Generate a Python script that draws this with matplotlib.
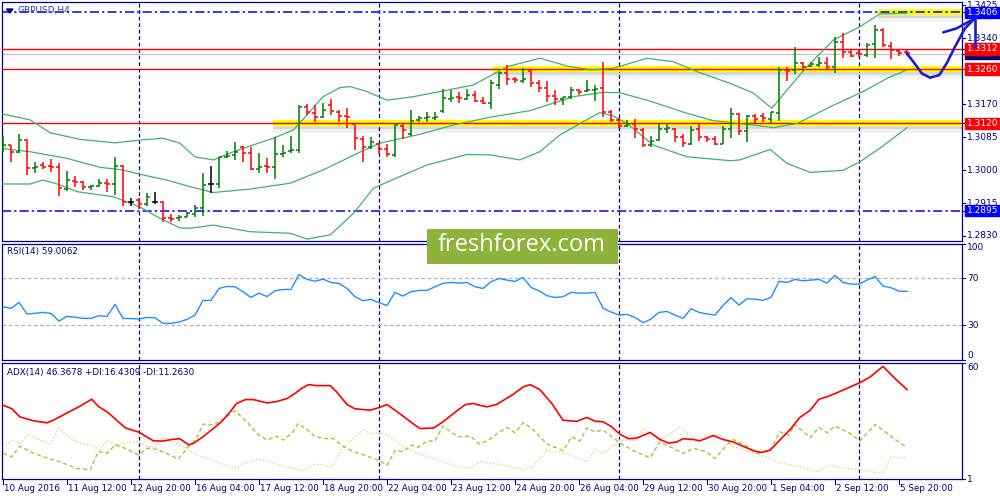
import numpy as np
import matplotlib.pyplot as plt
import matplotlib.transforms as mtransforms
import matplotlib.patheffects as pe
from matplotlib.collections import LineCollection
from matplotlib.patches import Rectangle, Polygon

plt.rcParams['font.family'] = 'DejaVu Sans'
plt.rcParams['font.size'] = 6.3

# ---- GBPUSD H4 bars ----
opens = [1.30532, 1.30635, 1.30464, 1.30764, 1.30043, 1.30120, 1.30103, 1.30086, 1.29502, 1.29725,
         1.29699, 1.29553, 1.29588, 1.29657, 1.29639, 1.30103, 1.29184, 1.29227, 1.29116, 1.29176,
         1.29184, 1.28763, 1.28755, 1.28798, 1.28858, 1.29030, 1.29639, 1.29631, 1.30343, 1.30395,
         1.30584, 1.30450, 1.30026, 1.30103, 1.30086, 1.30404, 1.30498, 1.30515, 1.31632, 1.31477,
         1.31357, 1.31674, 1.31503, 1.31391, 1.31185, 1.30807, 1.30601, 1.30670, 1.30532, 1.30386,
         1.31142, 1.30927, 1.31288, 1.31331, 1.31331, 1.31520, 1.31820, 1.31872, 1.31829, 1.31932,
         1.31786, 1.31717, 1.32190, 1.32490, 1.32344, 1.32293, 1.32559, 1.32250, 1.32104, 1.31906,
         1.31820, 1.31872, 1.32061, 1.32035, 1.32061, 1.32104, 1.31503, 1.31288, 1.31142, 1.31185,
         1.31030, 1.30644, 1.30773, 1.31048, 1.31048, 1.30859, 1.30661, 1.31048, 1.30842, 1.30790,
         1.30670, 1.31056, 1.31434, 1.31005, 1.31391, 1.31391, 1.31305, 1.31460, 1.32576, 1.32576,
         1.32748, 1.32679, 1.32705, 1.32748, 1.32662, 1.33289, 1.33048, 1.33005, 1.32963, 1.33237,
         1.33607, 1.33203, 1.33074, 1.33031]
highs = [1.30876, 1.30653, 1.30927, 1.30790, 1.30215, 1.30215, 1.30283, 1.30172, 1.29974, 1.29845,
         1.29717, 1.29605, 1.29768, 1.29777, 1.30343, 1.30129, 1.29270, 1.29270, 1.29399, 1.29433,
         1.29210, 1.28867, 1.28841, 1.28927, 1.29098, 1.29914, 1.30103, 1.30343, 1.30498, 1.30721,
         1.30618, 1.30601, 1.30429, 1.30301, 1.30842, 1.30644, 1.30876, 1.31674, 1.31692, 1.31674,
         1.31717, 1.31829, 1.31546, 1.31589, 1.31202, 1.30884, 1.30842, 1.30704, 1.30661, 1.31202,
         1.31185, 1.31546, 1.31391, 1.31494, 1.31503, 1.32078, 1.32061, 1.32018, 1.32078, 1.32044,
         1.31889, 1.32318, 1.32516, 1.32705, 1.32387, 1.32619, 1.32593, 1.32318, 1.32301, 1.32061,
         1.31889, 1.32130, 1.32087, 1.32318, 1.32190, 1.32791, 1.31546, 1.31331, 1.31288, 1.31305,
         1.31073, 1.30876, 1.31185, 1.31185, 1.31073, 1.30919, 1.31142, 1.31202, 1.30876, 1.30884,
         1.31142, 1.31589, 1.31460, 1.31417, 1.31434, 1.31460, 1.31503, 1.32662, 1.32662, 1.33177,
         1.32774, 1.32791, 1.32902, 1.32902, 1.33418, 1.33521, 1.33109, 1.33109, 1.33263, 1.33735,
         1.33649, 1.33289, 1.33091, 1.33091]
lows = [1.30472, 1.30215, 1.30429, 1.29871, 1.29914, 1.30026, 1.29957, 1.29339, 1.29468, 1.29553,
        1.29485, 1.29485, 1.29571, 1.29425, 1.29356, 1.29081, 1.29073, 1.28987, 1.29081, 1.29116,
        1.28669, 1.28652, 1.28695, 1.28781, 1.28781, 1.28824, 1.29399, 1.29528, 1.30301, 1.30258,
        1.30198, 1.30000, 1.29931, 1.29914, 1.29760, 1.30343, 1.30429, 1.30447, 1.31417, 1.31245,
        1.31331, 1.31417, 1.31245, 1.31073, 1.30515, 1.30215, 1.30541, 1.30404, 1.30326, 1.30326,
        1.30790, 1.30876, 1.31245, 1.31245, 1.31288, 1.31477, 1.31760, 1.31735, 1.31803, 1.31760,
        1.31700, 1.31580, 1.32087, 1.32190, 1.32250, 1.32250, 1.32147, 1.32001, 1.31743, 1.31674,
        1.31674, 1.31820, 1.31932, 1.32018, 1.31778, 1.31374, 1.31245, 1.31073, 1.31116, 1.30833,
        1.30584, 1.30584, 1.30756, 1.30962, 1.30713, 1.30584, 1.30644, 1.30756, 1.30713, 1.30644,
        1.30661, 1.30816, 1.30902, 1.30730, 1.31202, 1.31245, 1.31219, 1.31271, 1.32293, 1.32473,
        1.32559, 1.32645, 1.32662, 1.32602, 1.32490, 1.32877, 1.32902, 1.32920, 1.32920, 1.32877,
        1.33177, 1.32851, 1.32937, 1.32963]
closes = [1.30635, 1.30464, 1.30764, 1.30043, 1.30086, 1.30077, 1.30086, 1.29528, 1.29742, 1.29682,
          1.29571, 1.29588, 1.29657, 1.29631, 1.30103, 1.29184, 1.29184, 1.29124, 1.29313, 1.29176,
          1.28755, 1.28738, 1.28781, 1.28884, 1.29030, 1.29614, 1.29639, 1.30326, 1.30369, 1.30472,
          1.30450, 1.30026, 1.30086, 1.30086, 1.30404, 1.30429, 1.30515, 1.31632, 1.31503, 1.31357,
          1.31546, 1.31520, 1.31391, 1.31374, 1.30816, 1.30601, 1.30713, 1.30532, 1.30404, 1.31159,
          1.31030, 1.31262, 1.31331, 1.31374, 1.31374, 1.31846, 1.31846, 1.31846, 1.31932, 1.31786,
          1.31717, 1.32233, 1.32490, 1.32336, 1.32318, 1.32336, 1.32233, 1.32121, 1.31906, 1.31820,
          1.31872, 1.32061, 1.32018, 1.32061, 1.32078, 1.31503, 1.31288, 1.31142, 1.31185, 1.31048,
          1.30644, 1.30756, 1.31048, 1.31073, 1.30859, 1.30687, 1.31030, 1.30842, 1.30799, 1.30670,
          1.31048, 1.31434, 1.31005, 1.31400, 1.31322, 1.31331, 1.31486, 1.32576, 1.32559, 1.32748,
          1.32662, 1.32722, 1.32765, 1.32662, 1.33306, 1.33048, 1.32937, 1.32988, 1.33220, 1.33607,
          1.33220, 1.33091, 1.33005, 1.33005]

# Bollinger bands (x = bar index, read at visible vertices)
bb_up_x = [-0.4, 3.4, 5.9, 9.6, 14.0, 17.1, 20.0, 22.1, 24.0, 26.3, 28.8, 30.9, 33.8, 36.3, 38.0, 40.0,
           42.1, 43.4, 45.5, 48.0, 51.3, 54.6, 58.8, 63.0, 67.1, 70.5, 73.4, 76.3, 80.5, 83.8, 86.8,
           90.9, 93.8, 96.1, 98.0, 100.5, 103.8, 107.1, 109.6, 113.0]
bb_up = [1.3146, 1.3129, 1.3096, 1.3079, 1.3070, 1.3077, 1.3082, 1.3069, 1.3034, 1.3026, 1.3047, 1.3062,
         1.3082, 1.3103, 1.3142, 1.3189, 1.3212, 1.3215, 1.3202, 1.3180, 1.3189, 1.3202, 1.3219, 1.3266,
         1.3288, 1.3268, 1.3258, 1.3262, 1.3288, 1.3279, 1.3253, 1.3223, 1.3198, 1.3159, 1.3206, 1.3266,
         1.3335, 1.3369, 1.3402, 1.3404]
bb_mid_x = [-0.4, 3.4, 8.0, 12.1, 15.0, 17.1, 20.5, 23.4, 26.3, 30.9, 35.9, 40.0, 44.3, 47.1, 52.1, 56.3,
            60.9, 65.9, 71.3, 75.0, 77.1, 80.5, 85.5, 88.8, 90.9, 93.8, 96.3, 99.3, 103.4, 107.5, 110.5, 113.0]
bb_mid = [1.3056, 1.3047, 1.3030, 1.3007, 1.3000, 1.2989, 1.2974, 1.2957, 1.2942, 1.2951, 1.2966, 1.3000,
          1.3043, 1.3069, 1.3092, 1.3116, 1.3136, 1.3153, 1.3189, 1.3200, 1.3199, 1.3180, 1.3146, 1.3127,
          1.3122, 1.3116, 1.3109, 1.3120, 1.3163, 1.3202, 1.3236, 1.3258]
bb_low_x = [-0.4, 3.4, 5.0, 6.8, 9.3, 13.8, 17.1, 19.6, 22.1, 23.4, 26.3, 30.9, 35.9, 38.0, 40.9, 43.8,
            46.3, 49.6, 53.0, 58.0, 60.9, 64.6, 67.1, 69.6, 71.8, 74.6, 76.3, 78.0, 81.3, 85.5, 90.9,
            92.1, 95.9, 98.0, 100.9, 105.0, 107.1, 109.6, 113.0]
bb_low = [1.2964, 1.2964, 1.2974, 1.2964, 1.2944, 1.2931, 1.2905, 1.2876, 1.2851, 1.2850, 1.2858, 1.2841,
          1.2837, 1.2822, 1.2833, 1.2888, 1.2953, 1.2983, 1.3013, 1.3040, 1.3039, 1.3026, 1.3047, 1.3090,
          1.3116, 1.3148, 1.3139, 1.3120, 1.3064, 1.3034, 1.3024, 1.3026, 1.3053, 1.3017, 1.2994, 1.2999,
          1.3021, 1.3056, 1.3109]

# RSI(14), one value per bar
rsi = [45.9, 44.5, 49.6, 39.7, 40.3, 41.1, 40.2, 33.7, 37.7, 37.0,
       36.0, 36.0, 38.2, 37.7, 47.9, 36.0, 35.8, 35.4, 36.8, 36.5,
       31.7, 31.7, 32.9, 35.1, 38.8, 51.3, 51.3, 61.5, 63.2, 62.9,
       58.7, 53.8, 57.5, 54.6, 59.5, 60.6, 60.6, 73.4, 69.2, 67.7,
       69.4, 66.6, 65.8, 61.5, 54.4, 51.0, 52.2, 49.3, 47.0, 58.1,
       55.0, 58.7, 59.8, 59.8, 62.9, 65.8, 66.6, 66.0, 66.6, 62.9,
       61.5, 67.2, 70.0, 68.6, 67.5, 70.9, 62.4, 59.5, 55.3, 53.8,
       54.4, 58.1, 57.5, 57.5, 58.1, 44.7, 41.4, 38.8, 39.4, 36.8,
       32.3, 35.4, 41.1, 41.9, 38.8, 36.0, 44.2, 41.1, 39.7, 38.8,
       47.0, 53.6, 47.3, 52.7, 52.4, 51.3, 53.8, 67.5, 66.6, 69.2,
       68.0, 68.6, 69.2, 66.0, 72.6, 66.6, 65.2, 65.2, 68.6, 71.7,
       63.5, 62.1, 59.2, 59.0]

# ADX(14) and directional lines (x = bar index of the read vertex)
adx_x = [0, 1.1, 2.1, 3.8, 5.5, 6.3, 8.0, 9.6, 11.1, 11.9, 13.2, 14.2, 15.3, 17.0, 18.8, 20.0, 21.1, 22.1,
         23.2, 23.8, 25.0, 26.3, 27.3, 28.4, 29.2, 30.3, 31.3, 33.0, 34.2, 35.5, 36.5, 37.3, 38.2, 39.2,
         40.9, 41.7, 43.0, 44.0, 45.9, 47.1, 48.0, 49.0, 50.0, 51.1, 52.1, 53.8, 55.0, 56.3, 57.8, 58.8,
         59.6, 60.5, 61.7, 63.8, 65.0, 65.9, 67.1, 68.6, 70.0, 71.7, 73.0, 74.0, 75.0, 76.1, 77.1, 78.2,
         79.2, 80.9, 82.1, 83.2, 84.2, 85.0, 86.3, 87.1, 88.8, 90.0, 91.3, 92.5, 93.8, 94.8, 95.9, 97.1,
         98.4, 99.6, 100.9, 102.0, 103.0, 104.2, 105.9, 107.1, 108.4, 110.0, 111.5, 113.0]
adx = [38.5, 36.8, 32.6, 30.6, 29.6, 30.9, 34.6, 38.0, 41.6, 38.0, 34.6, 30.9, 27.0, 24.8, 20.4, 20.3, 21.1,
       21.5, 18.4, 19.1, 22.5, 26.7, 30.1, 35.2, 39.4, 41.4, 41.4, 39.7, 40.4, 41.9, 44.5, 47.0, 49.0, 48.5,
       48.5, 45.3, 38.9, 36.7, 36.0, 37.4, 38.9, 36.0, 33.0, 29.6, 26.7, 26.9, 30.1, 34.3, 38.9, 39.4,
       38.5, 37.7, 38.9, 44.1, 47.8, 49.0, 46.5, 39.4, 30.9, 30.3, 32.3, 30.4, 30.1, 27.5, 23.8, 21.5,
       21.8, 24.7, 21.1, 19.3, 19.8, 21.5, 21.1, 20.4, 23.1, 21.1, 19.8, 17.7, 15.4, 14.5, 15.7, 20.8,
       26.2, 32.3, 36.0, 41.6, 42.8, 44.8, 47.8, 50.0, 52.9, 58.3, 52.1, 46.5]
pdi_x = [0, 1.1, 2.1, 3.4, 5.0, 7.1, 9.2, 10.9, 11.9, 13.0, 14.0, 15.0, 17.0, 18.0, 19.2, 20.9, 21.9, 23.0,
         24.2, 25.0, 26.3, 27.3, 29.0, 30.5, 31.7, 33.0, 34.2, 35.0, 36.1, 36.9, 38.0, 39.0, 40.3, 41.3,
         42.5, 43.8, 45.5, 47.1, 48.0, 49.0, 50.0, 51.1, 51.9, 53.0, 54.0, 55.0, 56.1, 57.1, 58.4, 59.6,
         60.7, 61.9, 63.0, 64.0, 65.0, 66.1, 68.0, 70.0, 71.1, 72.1, 73.0, 74.0, 75.0, 77.1, 78.8, 80.9,
         82.1, 83.4, 85.0, 86.3, 87.9, 89.0, 90.5, 91.3, 93.0, 94.4, 95.9, 97.1, 98.2, 99.0, 100.9, 102.0,
         103.0, 104.0, 105.9, 107.1, 109.0, 110.0, 111.5, 113.0]
pdi = [14.0, 12.3, 17.7, 14.9, 12.3, 9.8, 6.4, 5.6, 14.9, 14.0, 18.3, 17.1, 13.2, 16.6, 16.1, 13.2, 11.1,
       16.6, 21.6, 28.9, 28.4, 30.9, 35.7, 30.1, 24.2, 20.8, 22.8, 20.8, 24.2, 29.2, 26.2, 22.5, 21.6, 21.6,
       17.7, 14.9, 12.7, 10.3, 7.9, 15.4, 14.9, 18.3, 17.1, 20.3, 20.3, 27.9, 24.5, 22.5, 22.8, 18.7,
       20.8, 24.5, 27.2, 24.5, 29.7, 26.7, 18.8, 15.4, 22.5, 20.3, 27.0, 25.0, 25.9, 19.4, 15.4, 11.8,
       19.9, 17.4, 14.0, 16.6, 14.9, 11.5, 18.3, 21.1, 17.7, 14.0, 15.7, 25.0, 23.3, 28.7, 22.1, 27.2,
       24.5, 27.9, 24.2, 20.3, 28.7, 25.9, 21.1, 17.1]
mdi_x = [0, 1.3, 2.1, 3.2, 4.6, 5.9, 7.0, 8.2, 9.6, 11.1, 12.1, 13.0, 14.0, 15.0, 17.0, 18.0, 19.0, 20.0,
         21.1, 22.1, 23.0, 24.2, 26.3, 29.0, 30.0, 31.7, 33.0, 35.0, 37.5, 39.0, 41.1, 42.5, 43.8, 45.0,
         46.1, 47.1, 48.2, 50.0, 52.1, 53.8, 55.5, 57.1, 58.4, 59.6, 61.7, 63.8, 65.0, 66.3, 68.0, 70.0,
         72.1, 73.0, 74.0, 75.0, 77.1, 79.2, 80.0, 82.1, 84.6, 86.7, 88.4, 89.6, 91.3, 93.0, 95.0, 97.1,
         99.2, 101.7, 103.2, 105.5, 107.6, 110.0, 111.0, 113.0]
mdi = [17.1, 21.1, 19.1, 23.8, 20.8, 18.8, 26.7, 22.5, 19.1, 18.3, 15.7, 20.4, 18.3, 19.4, 19.9, 17.4, 17.1,
       22.1, 20.3, 18.3, 16.6, 13.2, 10.3, 6.4, 8.4, 11.0, 10.3, 7.6, 5.2, 8.6, 7.3, 17.1, 21.6, 25.9,
       23.8, 24.5, 23.3, 17.7, 13.7, 11.5, 9.0, 6.9, 6.8, 9.8, 8.6, 6.9, 5.6, 7.6, 15.4, 14.4, 11.5, 9.8,
       16.1, 14.0, 20.8, 20.8, 26.7, 20.8, 27.2, 20.8, 23.8, 23.3, 17.4, 15.4, 12.7, 9.3, 7.6, 4.7, 7.9,
       6.4, 5.6, 3.5, 12.3, 11.5]

# levels and annotations
red_levels = [1.3312, 1.3260, 1.3120]
blue_levels = [1.3406, 1.2895]
bid_price = 1.3300
yellow_levels = [1.3406, 1.3260, 1.3120]
yellow_start = [109.4, 61.25, 33.75]
separators = [17, 47, 77, 107]
price_ticks = [1.3425, 1.3340, 1.3170, 1.3085, 1.3000, 1.2915, 1.2830]
date_idx = list(range(0, 113, 8))
date_labels = ['10 Aug 2016', '11 Aug 12:00', '12 Aug 20:00', '16 Aug 04:00', '17 Aug 12:00',
               '18 Aug 20:00', '22 Aug 04:00', '23 Aug 12:00', '24 Aug 20:00', '26 Aug 04:00',
               '29 Aug 12:00', '30 Aug 20:00', '1 Sep 04:00', '2 Sep 12:00', '5 Sep 20:00']
arrow_x = [112.96, 113.79, 114.84, 115.88, 117.04, 117.96, 119.0, 120.25, 121.5]
arrow_y = [1.33006, 1.32790, 1.32491, 1.32378, 1.32447, 1.32749, 1.33176, 1.33650, 1.33908]
barb1_x = [117.54, 119.21, 121.5]
barb1_y = [1.33547, 1.33650, 1.33908]
barb2_x = [121.5, 121.5]
barb2_y = [1.33908, 1.33176]

NAVY = '#000080'
BULL = '#007a00'
BEAR = '#ff0000'
W, H = 1000, 500


def px_box(left, top, right, bottom):
    return [left / W, 1 - bottom / H, (right - left) / W, (bottom - top) / H]


fig = plt.figure(figsize=(10, 5), dpi=100, facecolor='white')
ax = fig.add_axes(px_box(2, 2, 962, 240.5))
ax_rsi = fig.add_axes(px_box(2, 243.5, 962, 360))
ax_adx = fig.add_axes(px_box(2, 363, 962, 479))

for a in (ax, ax_rsi, ax_adx):
    a.set_xlim(-0.125, 119.875)
    a.set_xticks([])
    a.set_yticks([])
    for s in a.spines.values():
        s.set_color(NAVY)
        s.set_linewidth(0.9)
    for sep in separators:
        a.axvline(sep, color=NAVY, lw=0.9, ls=(0, (3, 2.2)), zorder=1)

ax.set_ylim(1.28184, 1.34328)
ax_rsi.set_ylim(0.5, 99.8)
ax_adx.set_ylim(60 - 116.3 * 0.5073, 60)


def right_label(a, y, text, bg=None, va='center', z=6):
    tr = mtransforms.blended_transform_factory(a.transAxes, a.transData)
    a.plot([1, 1.0035], [y, y], transform=tr, color=NAVY, lw=0.8, clip_on=False)
    if bg is None:
        a.text(1.0055, y, text, transform=tr, color=NAVY, va=va, ha='left',
               fontsize=6.5, clip_on=False, zorder=z)
    else:
        a.text(1.0048, y, text, transform=tr, color='white', va=va, ha='left',
               fontsize=6.5, clip_on=False, zorder=z,
               bbox=dict(boxstyle='square,pad=0.13', fc=bg, ec=bg))


# ---- main price panel ----
shadow = [pe.SimpleLineShadow(offset=(0, -2.2), shadow_color='black', alpha=0.11),
          pe.SimpleLineShadow(offset=(0, -4.4), shadow_color='black', alpha=0.05),
          pe.Normal()]
for lvl, x0 in zip(yellow_levels, yellow_start):
    ax.plot([x0, 119.875], [lvl, lvl], color='#ffff00', lw=4.4, solid_capstyle='butt',
            path_effects=shadow, zorder=2)
ax.axhline(bid_price, color='#c8c8c8', lw=1, zorder=2)
for lvl in red_levels:
    ax.axhline(lvl, color='#ff0000', lw=1, zorder=3)
for lvl in blue_levels:
    ax.axhline(lvl, color='#0000ff', lw=1.1, ls=(0, (6, 2, 1.5, 2)), zorder=3)

for bx, by in ((bb_up_x, bb_up), (bb_mid_x, bb_mid), (bb_low_x, bb_low)):
    ax.plot(bx, by, color='#3cb371', lw=0.9, zorder=4)

idx = np.arange(len(closes))
segs, cols = [], []
for i in idx:
    o, h, l, c = opens[i], highs[i], lows[i], closes[i]
    col = BULL if c > o else (BEAR if c < o else 'black')
    segs += [[(i, l), (i, h)], [(i - 0.42, o), (i, o)], [(i, c), (i + 0.42, c)]]
    cols += [col] * 3
ax.add_collection(LineCollection(segs, colors=cols, linewidths=1.1, zorder=5))

for t in price_ticks:
    right_label(ax, t, f'{t:.4f}')
right_label(ax, 1.3406, '1.3406', bg='#0000ff', z=7)
right_label(ax, 1.3300, '1.3300', bg='#000070', z=7)
right_label(ax, 1.3312, '1.3312', bg='#ff0000', z=8)
right_label(ax, 1.3260, '1.3260', bg='#ff0000', z=7)
right_label(ax, 1.3120, '1.3120', bg='#ff0000', z=7)
right_label(ax, 1.2895, '1.2895', bg='#0000ff', z=7)

for px, py in ((arrow_x, arrow_y), (barb1_x, barb1_y), (barb2_x, barb2_y)):
    ax.plot(px, py, color='#1c1cd6', lw=1.9, clip_on=False, zorder=20,
            solid_capstyle='round', solid_joinstyle='round')

# ---- RSI panel ----
for lvl in (30, 70):
    ax_rsi.axhline(lvl, color='#b4b4b4', lw=0.9, ls=(0, (3, 2)), zorder=1)
ax_rsi.plot(idx, rsi, color='#1e90ff', lw=1, zorder=4)
right_label(ax_rsi, 99.8, '100', va='top')
right_label(ax_rsi, 70, '70')
right_label(ax_rsi, 30, '30')
right_label(ax_rsi, 0.5, '0', va='bottom')

# ---- ADX panel ----
ax_adx.plot(mdi_x, mdi, color='#f2d3a0', lw=1.1, ls=(0, (1, 1.2)), zorder=3)
ax_adx.plot(pdi_x, pdi, color='#9acd32', lw=1, ls=(0, (3, 2)), zorder=3)
ax_adx.plot(adx_x, adx, color='#ff0000', lw=1.2, zorder=4)
right_label(ax_adx, 60, '60', va='top')
right_label(ax_adx, 1.0, '1', va='center')

tr_x = mtransforms.blended_transform_factory(ax_adx.transData, ax_adx.transAxes)
for d, lab in zip(date_idx, date_labels):
    ax_adx.plot([d, d], [0, -0.04], transform=tr_x, color=NAVY, lw=0.8, clip_on=False)
    ax_adx.text(d + 0.15, -0.08, lab, transform=tr_x, color=NAVY, fontsize=6.3,
                ha='left', va='center', clip_on=False)

# ---- overlay: header texts and watermark ----
ov = fig.add_axes([0, 0, 1, 1], zorder=10)
ov.set_xlim(0, W)
ov.set_ylim(H, 0)
ov.set_axis_off()
ov.patch.set_visible(False)
ov.add_patch(Polygon([(6.5, 9), (13, 9), (9.75, 13)], closed=True, fc=NAVY, ec=NAVY))
ov.text(18, 11, 'GBPUSD,H4', color='#2a3c9c', fontsize=6.5, va='center', ha='left')
ov.text(7, 251.5, 'RSI(14) 59.0062', color=NAVY, fontsize=6.3, va='center', ha='left')
ov.text(7, 372, 'ADX(14) 46.3678 +DI:16.4309 -DI:11.2630', color=NAVY, fontsize=6.3,
        va='center', ha='left')
ov.add_patch(Rectangle((427, 229), 191, 35, fc='#8db33a', ec='none'))
ov.text(522, 245, 'freshforex.com', color='white', fontsize=17, family='Open Sans',
        ha='center', va='center')

fig.savefig('out.png', dpi=100, facecolor='white')
